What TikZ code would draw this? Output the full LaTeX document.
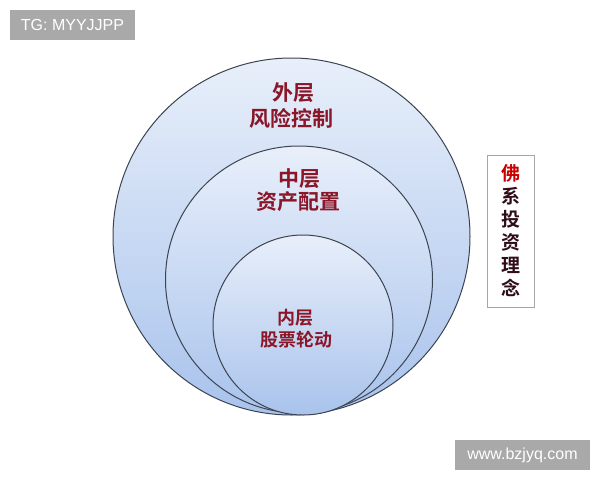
\documentclass[tikz,border=0pt]{standalone}
\usepackage{fontspec}
\setmainfont{Liberation Sans}
\newfontfamily\cjk{Noto Sans CJK SC}
\newfontfamily\cjkb{Noto Sans CJK SC Bold}
\definecolor{lbl}{HTML}{8A1628}
\definecolor{ring}{HTML}{3C4452}
\definecolor{wm}{HTML}{A9A9A9}
\definecolor{vdark}{HTML}{2E0C18}
\definecolor{ctop}{HTML}{E8EFFA}
\definecolor{cbot}{HTML}{A9C3EC}
\tikzset{
  layer/.style={draw=ring, line width=1pt, top color=ctop, bottom color=cbot},
  lab/.style={font=\cjkb\fontsize{21}{25}\selectfont, text=lbl, align=center, inner sep=0pt},
  labs/.style={font=\cjkb\fontsize{18}{21}\selectfont, text=lbl, align=center, inner sep=0pt},
  wmbox/.style={fill=wm, text=white, font=\fontsize{16}{18}\selectfont, minimum height=30pt, inner sep=0pt},
  vchar/.style={font=\cjkb\fontsize{19}{21}\selectfont, text=vdark, inner sep=0pt}
}
\begin{document}
\begin{tikzpicture}[x=1pt,y=-1pt]
\useasboundingbox (0,0) rectangle (600,480);
\fill[white] (0,0) rectangle (600,480);
% circles
\node[layer, circle, minimum size=357pt, inner sep=0pt] (outer) at (291.5,236.5) {};
\node[layer, circle, minimum size=267pt, inner sep=0pt] (middle) at (299,279.5) {};
\node[layer, circle, minimum size=180pt, inner sep=0pt] (inner) at (303,325) {};
% labels
\node[lab] (l1a) at (293,93) {外层};
\node[lab] (l1b) at (291,118) {风险控制};
\node[lab] (l2a) at (299,179) {中层};
\node[lab] (l2b) at (298,202) {资产配置};
\node[labs] (l3a) at (295,318) {内层};
\node[labs] (l3b) at (296,340) {股票轮动};
% vertical box
\node[draw=gray!70, fill=white, line width=0.8pt, minimum width=47pt, minimum height=152pt, inner sep=0pt] (vbox) at (510.5,231) {};
\node[vchar, text=red!80!black] (v1) at (510.5,173) {佛};
\node[vchar] (v2) at (510.5,196) {系};
\node[vchar] (v3) at (510.5,219) {投};
\node[vchar] (v4) at (510.5,242) {资};
\node[vchar] (v5) at (510.5,265) {理};
\node[vchar] (v6) at (510.5,288) {念};
% watermarks
\node[wmbox, minimum width=125pt] (tg) at (72.5,25) {TG: MYYJJPP};
\node[wmbox, minimum width=135pt] (www) at (522.5,455) {www.bzjyq.com};
\end{tikzpicture}
\end{document}
